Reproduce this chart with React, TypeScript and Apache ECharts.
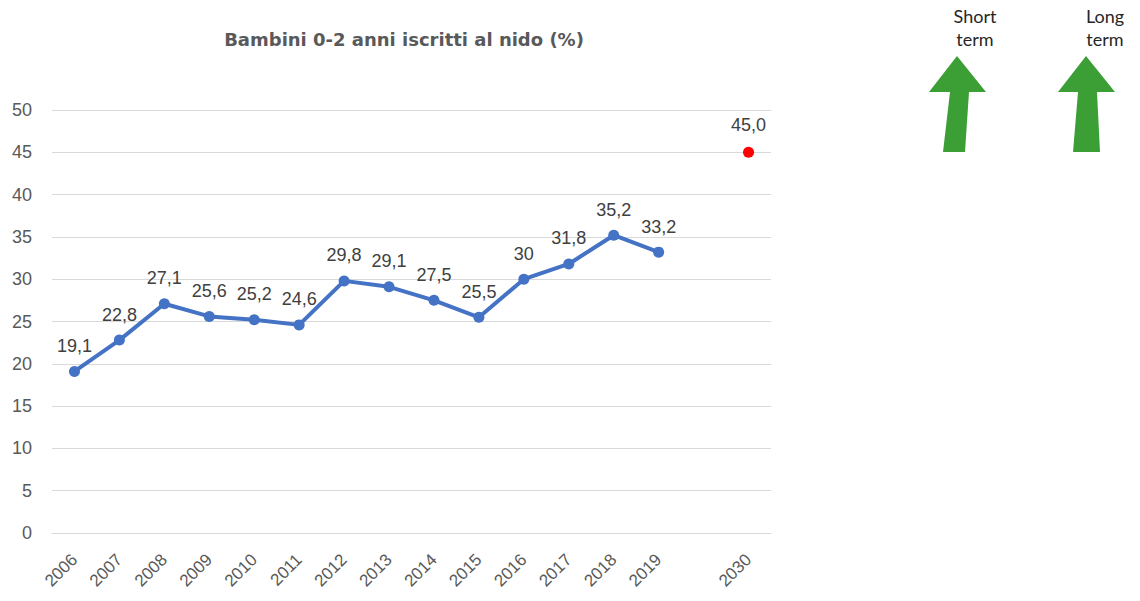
import React, { useEffect, useRef } from "react";
import * as echarts from "echarts";

const categories = ["2006", "2007", "2008", "2009", "2010", "2011", "2012", "2013", "2014", "2015", "2016", "2017", "2018", "2019", "", "2030"];
const enrolled = [19.1, 22.8, 27.1, 25.6, 25.2, 24.6, 29.8, 29.1, 27.5, 25.5, 30, 31.8, 35.2, 33.2, null, null];
const target = [null, null, null, null, null, null, null, null, null, null, null, null, null, null, null, 45.0];
const yTicks = { min: 0, max: 50, interval: 5 };
const titleText = "Bambini 0-2 anni iscritti al nido (%)";
const arrowLabels = ["Short\nterm", "Long\nterm"];

export default function App() {
  const ref = useRef<HTMLDivElement>(null);
  useEffect(() => {
    if (!ref.current) return;
    const chart = echarts.init(ref.current, null, { renderer: "svg" });
    const green = "#3C9F36";
    chart.setOption({
      animation: false,
      backgroundColor: "#ffffff",
      title: {
        text: titleText,
        left: 399,
        textAlign: "center",
        top: 25,
        textStyle: { fontFamily: "DejaVu Sans", fontSize: 18, fontWeight: "bold", color: "#595959" },
      },
      grid: { left: 52, right: 369, top: 110, bottom: 68 },
      xAxis: {
        type: "category",
        data: categories,
        boundaryGap: true,
        axisTick: { show: false },
        axisLine: { lineStyle: { color: "#D9D9D9", width: 1 } },
        axisLabel: {
          interval: 0,
          rotate: 45,
          margin: 24,
          color: "#595959",
          fontFamily: "Liberation Sans",
          fontSize: 17,
        },
      },
      yAxis: {
        type: "value",
        min: yTicks.min,
        max: yTicks.max,
        interval: yTicks.interval,
        axisLine: { show: false },
        axisTick: { show: false },
        splitLine: { lineStyle: { color: "#D9D9D9", width: 1 } },
        axisLabel: { color: "#595959", fontFamily: "Liberation Sans", fontSize: 18, margin: 20 },
      },
      series: [
        {
          type: "line",
          data: enrolled,
          connectNulls: false,
          symbol: "circle",
          symbolSize: 11,
          itemStyle: { color: "#4472C4" },
          lineStyle: { color: "#4472C4", width: 4 },
          label: {
            show: true,
            position: "top",
            distance: 11,
            color: "#404040",
            fontFamily: "Liberation Sans",
            fontSize: 18,
            formatter: (p: any) => String(p.value).replace(".", ","),
          },
        },
        {
          type: "line",
          data: target,
          symbol: "circle",
          symbolSize: 11,
          itemStyle: { color: "#FF0000" },
          lineStyle: { width: 0 },
          label: {
            show: true,
            position: "top",
            distance: 13,
            color: "#404040",
            fontFamily: "Liberation Sans",
            fontSize: 18,
            formatter: (p: any) => Number(p.value).toFixed(1).replace(".", ","),
          },
        },
      ],
      graphic: [
        {
          type: "polygon",
          shape: { points: [[957, 56], [986, 92], [969, 92], [965, 152], [943, 152], [950, 92], [929, 92]] },
          style: { fill: green },
        },
        {
          type: "polygon",
          shape: { points: [[1086, 56], [1115, 92], [1097, 92], [1100, 152], [1073, 152], [1078, 92], [1058, 92]] },
          style: { fill: green },
        },
        {
          type: "text",
          x: 975,
          y: 4,
          style: { text: arrowLabels[0], fill: "#262626", fontFamily: "Lato", fontSize: 18, lineHeight: 23, align: "center" },
        },
        {
          type: "text",
          x: 1105,
          y: 4,
          style: { text: arrowLabels[1], fill: "#262626", fontFamily: "Lato", fontSize: 18, lineHeight: 23, align: "center" },
        },
      ],
    });
    return () => chart.dispose();
  }, []);
  return <div ref={ref} style={{ position: "fixed", left: 0, top: 0, width: 1140, height: 601 }} />;
}
